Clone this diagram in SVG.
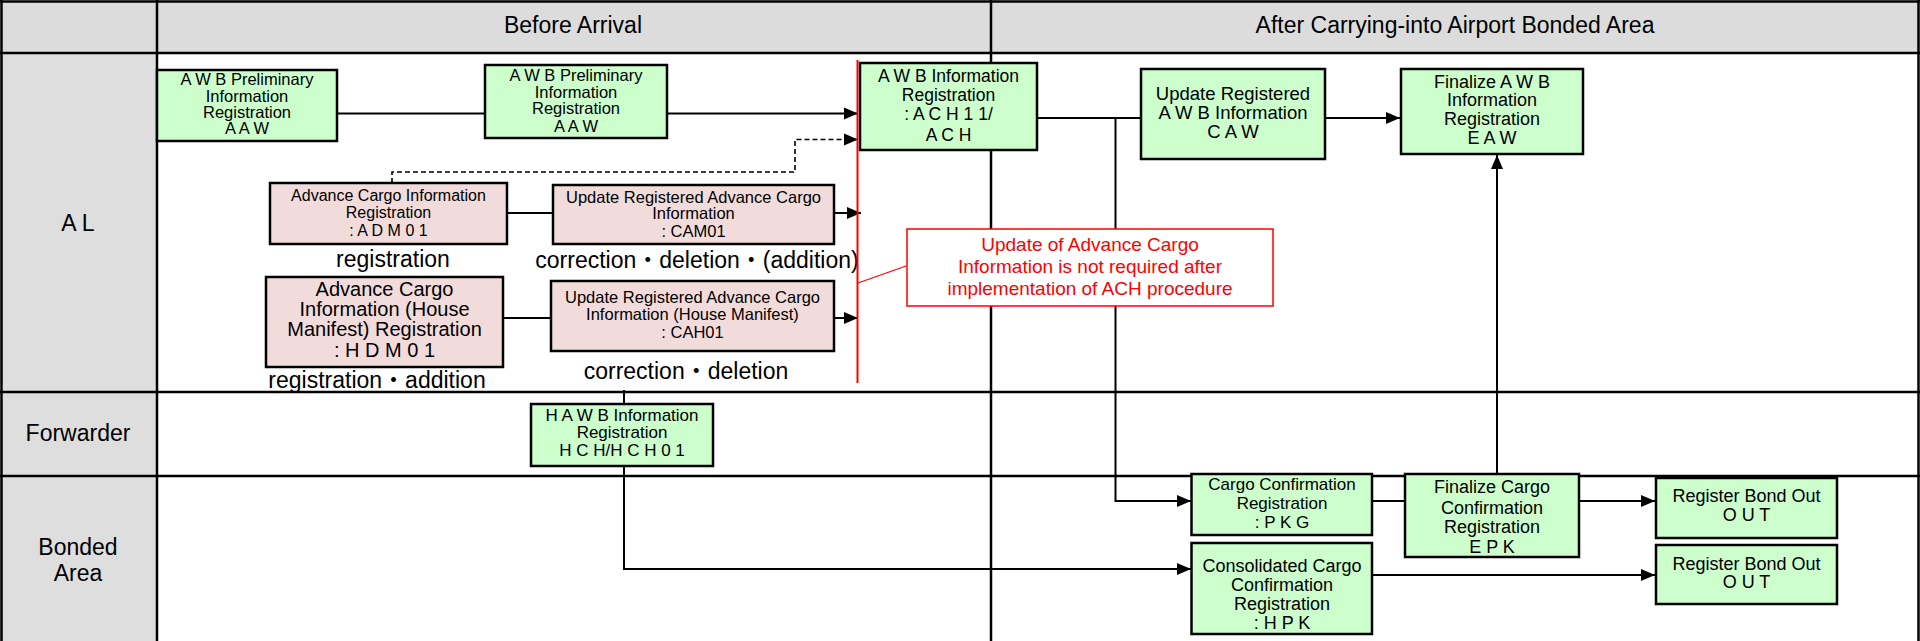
<svg xmlns="http://www.w3.org/2000/svg" width="1920" height="641" viewBox="0 0 1920 641">
<defs>
<style>
text{font-family:"Liberation Sans","Noto Sans CJK JP",sans-serif;fill:#000;text-anchor:middle;dominant-baseline:central}
.hd{font-size:23px}
.lane{font-size:23px}
.lbl{font-size:23px}
.g{fill:#ccffcc;stroke:#000;stroke-width:2.5}
.p{fill:#f2dcdb;stroke:#000;stroke-width:2.5}
.c{fill:none;stroke:#000;stroke-width:2}
.d{fill:none;stroke:#000;stroke-width:1.6;stroke-dasharray:5 3}
.grid{stroke:#000;stroke-width:2.5;fill:none}
.red{fill:red}
</style>
<marker id="ah" markerUnits="userSpaceOnUse" markerWidth="14" markerHeight="14" viewBox="0 0 14 14" refX="14" refY="7" orient="auto">
<path d="M0,1 L14,7 L0,13 Z" fill="#000"/>
</marker>
</defs>

<g id="grid">
<rect x="0" y="0" width="1920" height="53" fill="#dcdcdc"/>
<rect x="0" y="53" width="157" height="588" fill="#dedede"/>
<line class="grid" x1="0" y1="1.5" x2="1920" y2="1.5"/>
<line class="grid" x1="1.5" y1="0" x2="1.5" y2="641"/>
<line class="grid" x1="1918.5" y1="0" x2="1918.5" y2="641"/>
<line class="grid" x1="0" y1="53" x2="1920" y2="53"/>
<line class="grid" x1="0" y1="392" x2="1920" y2="392"/>
<line class="grid" x1="0" y1="476" x2="1920" y2="476"/>
<line class="grid" x1="157" y1="0" x2="157" y2="641"/>
<line class="grid" x1="991" y1="0" x2="991" y2="641"/>
<text class="hd" x="573" y="25">Before Arrival</text>
<text class="hd" x="1455" y="25">After Carrying-into Airport Bonded Area</text>
<text class="lane" x="78" y="223">A L</text>
<text class="lane" x="78" y="433">Forwarder</text>
<text class="lane" x="78" y="547">Bonded</text>
<text class="lane" x="78" y="573">Area</text>
</g>

<g id="connectors">
<line class="c" x1="337" y1="113.5" x2="485" y2="113.5"/>
<line class="c" x1="667" y1="113.5" x2="858" y2="113.5" marker-end="url(#ah)"/>
<polyline class="d" points="392,183 392,172 795,172 795,139.5 858,139.5" marker-end="url(#ah)"/>
<line class="c" x1="507" y1="213" x2="553" y2="213"/>
<line class="c" x1="834" y1="213" x2="861" y2="213" marker-end="url(#ah)"/>
<line class="c" x1="503" y1="318" x2="551" y2="318"/>
<line class="c" x1="834" y1="318" x2="858" y2="318" marker-end="url(#ah)"/>
<line class="c" x1="1037" y1="118" x2="1141" y2="118"/>
<polyline class="c" points="1115.5,118 1115.5,501 1191,501" marker-end="url(#ah)"/>
<line class="c" x1="1325" y1="118" x2="1400" y2="118" marker-end="url(#ah)"/>
<line class="c" x1="1372" y1="501" x2="1405" y2="501"/>
<line class="c" x1="1497" y1="474" x2="1497" y2="155" marker-end="url(#ah)"/>
<line class="c" x1="1579" y1="501" x2="1655" y2="501" marker-end="url(#ah)"/>
<polyline class="c" points="624,390 624,569 1191,569" marker-end="url(#ah)"/>
<line class="c" x1="1372" y1="575" x2="1655" y2="575" marker-end="url(#ah)"/>
</g>

<g id="n_aaw1">
<rect class="g" x="157" y="70" width="180" height="71"/>
<text x="247" y="79" font-size="16.5">A W B Preliminary</text>
<text x="247" y="95.7" font-size="16.5">Information</text>
<text x="247" y="112.3" font-size="16.5">Registration</text>
<text x="247" y="128.3" font-size="16.5">A A W</text>
</g>
<g id="n_aaw2">
<rect class="g" x="485" y="65" width="182" height="73"/>
<text x="576" y="75" font-size="16.5">A W B Preliminary</text>
<text x="576" y="91.7" font-size="16.5">Information</text>
<text x="576" y="108.3" font-size="16.5">Registration</text>
<text x="576" y="126" font-size="16.5">A A W</text>
</g>
<g id="n_ach">
<rect class="g" x="860" y="63" width="177" height="87"/>
<text x="948.5" y="76" font-size="17.5">A W B Information</text>
<text x="948.5" y="95" font-size="17.5">Registration</text>
<text x="948.5" y="114.3" font-size="17.5">: A C H 1 1/</text>
<text x="948.5" y="135" font-size="17.5">A C H</text>
</g>
<g id="n_caw">
<rect class="g" x="1141" y="69" width="184" height="90"/>
<text x="1233" y="93.5" font-size="18.5">Update Registered</text>
<text x="1233" y="112.3" font-size="18.5">A W B Information</text>
<text x="1233" y="131" font-size="18.5">C A W</text>
</g>
<g id="n_eaw">
<rect class="g" x="1401" y="69" width="182" height="85"/>
<text x="1492" y="81.7" font-size="18">Finalize  A W B</text>
<text x="1492" y="100" font-size="18">Information</text>
<text x="1492" y="119.3" font-size="18">Registration</text>
<text x="1492" y="137.7" font-size="18">E A W</text>
</g>
<g id="n_adm">
<rect class="p" x="270" y="183" width="237" height="61"/>
<text x="388.5" y="195" font-size="16">Advance Cargo Information</text>
<text x="388.5" y="212.7" font-size="16">Registration</text>
<text x="388.5" y="230" font-size="16">: A D M 0 1</text>
</g>
<text class="lbl" x="393" y="259">registration</text>
<g id="n_cam">
<rect class="p" x="553" y="185" width="281" height="59"/>
<text x="693.5" y="196.7" font-size="16.5">Update Registered Advance Cargo</text>
<text x="693.5" y="213.3" font-size="16.5">Information</text>
<text x="693.5" y="230.7" font-size="16.5">: CAM01</text>
</g>
<text class="lbl" x="697" y="260">correction・deletion・(addition)</text>
<g id="n_hdm">
<rect class="p" x="266" y="277" width="237" height="90"/>
<text x="384.5" y="289.3" font-size="20">Advance Cargo</text>
<text x="384.5" y="309.3" font-size="20">Information (House</text>
<text x="384.5" y="329.3" font-size="20">Manifest) Registration</text>
<text x="384.5" y="350" font-size="20">: H D M 0 1</text>
</g>
<text class="lbl" x="377" y="380">registration・addition</text>
<g id="n_cah">
<rect class="p" x="551" y="281" width="283" height="70"/>
<text x="692.5" y="296.7" font-size="16.5">Update Registered Advance Cargo</text>
<text x="692.5" y="314" font-size="16.5">Information (House Manifest)</text>
<text x="692.5" y="331.7" font-size="16.5">: CAH01</text>
</g>
<text class="lbl" x="686" y="371">correction・deletion</text>

<g id="redline">
<line x1="857.5" y1="60" x2="857.5" y2="383" stroke="red" stroke-width="2"/>
</g>
<g id="n_note">
<line x1="906" y1="266" x2="858" y2="283" stroke="red" stroke-width="1.2"/>
<rect x="907" y="229" width="366" height="77" fill="#fff" stroke="red" stroke-width="1.5"/>
<text class="red" x="1090" y="244" font-size="19">Update of Advance Cargo</text>
<text class="red" x="1090" y="266" font-size="19">Information is not required after</text>
<text class="red" x="1090" y="288" font-size="19">implementation of ACH procedure</text>
</g>

<g id="n_hawb">
<rect class="g" x="531" y="404" width="182" height="62"/>
<text x="622" y="415" font-size="17">H A W B Information</text>
<text x="622" y="432.3" font-size="17">Registration</text>
<text x="622" y="450.7" font-size="17">H C H/H C H 0 1</text>
</g>
<g id="n_pkg">
<rect class="g" x="1191.5" y="474" width="180.5" height="61"/>
<text x="1282" y="484.3" font-size="17">Cargo Confirmation</text>
<text x="1282" y="503.3" font-size="17">Registration</text>
<text x="1282" y="522.7" font-size="17">: P K G</text>
</g>
<g id="n_epk">
<rect class="g" x="1405" y="474" width="174" height="83"/>
<text x="1492" y="486.7" font-size="18">Finalize Cargo</text>
<text x="1492" y="507.7" font-size="18">Confirmation</text>
<text x="1492" y="527.3" font-size="18">Registration</text>
<text x="1492" y="547.3" font-size="18">E P K</text>
</g>
<g id="n_out1">
<rect class="g" x="1656" y="478" width="181" height="60"/>
<text x="1746.5" y="496" font-size="18">Register Bond Out</text>
<text x="1746.5" y="515" font-size="18">O U T</text>
</g>
<g id="n_hpk">
<rect class="g" x="1191.5" y="543" width="180.5" height="91"/>
<text x="1282" y="566" font-size="18">Consolidated Cargo</text>
<text x="1282" y="585" font-size="18">Confirmation</text>
<text x="1282" y="604.3" font-size="18">Registration</text>
<text x="1282" y="623.3" font-size="18">: H P K</text>
</g>
<g id="n_out2">
<rect class="g" x="1656" y="545" width="181" height="59"/>
<text x="1746.5" y="564" font-size="18">Register Bond Out</text>
<text x="1746.5" y="581.7" font-size="18">O U T</text>
</g>
</svg>
